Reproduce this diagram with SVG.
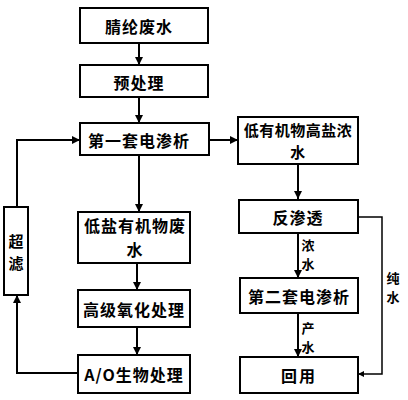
<svg xmlns="http://www.w3.org/2000/svg" width="408" height="400" viewBox="0 0 408 400">
<style>
.b{fill:#fff;stroke:#000;stroke-width:2}
.t{font-family:"Noto Sans CJK SC","Liberation Sans",sans-serif;font-size:16px;font-weight:bold;fill:#000;text-anchor:middle;dominant-baseline:central}
.s{font-family:"Noto Sans CJK SC","Liberation Sans",sans-serif;font-size:13px;font-weight:bold;fill:#000;text-anchor:middle;dominant-baseline:central}
.c{fill:none;stroke:#000;stroke-width:2}
</style>
<defs>
<marker id="a" viewBox="0 0 10 10" refX="10" refY="5" markerWidth="4" markerHeight="4" orient="auto" markerUnits="strokeWidth">
<path d="M0,0 L10,5 L0,10 z" fill="#000"/>
</marker>
</defs>
<rect width="408" height="400" fill="#fff"/>
<g id="connectors">
<path class="c" d="M139,43 V65" marker-end="url(#a)"/>
<path class="c" d="M139,97 V123" marker-end="url(#a)"/>
<path class="c" d="M209,140 H238" marker-end="url(#a)"/>
<path class="c" d="M139,155 V212" marker-end="url(#a)"/>
<path class="c" d="M137,263 V290" marker-end="url(#a)"/>
<path class="c" d="M137,327 V355" marker-end="url(#a)"/>
<path class="c" d="M78,373 H17 V295" marker-end="url(#a)"/>
<path class="c" d="M17,207 V140 H80" marker-end="url(#a)"/>
<path class="c" d="M298,164 V199" marker-end="url(#a)"/>
<path class="c" d="M298,233 V278" marker-end="url(#a)"/>
<path class="c" d="M298,313 V357" marker-end="url(#a)"/>
<path class="c" d="M358,217 H382 V374 H358" marker-end="url(#a)" style="stroke-width:1.5"/>
<text class="s"><tspan x="308" y="244">浓</tspan><tspan x="308" y="263">水</tspan></text>
<text class="s"><tspan x="308" y="327">产</tspan><tspan x="308" y="346">水</tspan></text>
<text class="s"><tspan x="393" y="277">纯</tspan><tspan x="393" y="296">水</tspan></text>
</g>
<g id="n1"><rect class="b" x="80" y="8" width="128" height="35"/><text class="t" x="139" y="26" letter-spacing="1">腈纶废水</text></g>
<g id="n2"><rect class="b" x="80" y="65" width="128" height="32"/><text class="t" x="139" y="82" letter-spacing="1">预处理</text></g>
<g id="n3"><rect class="b" x="80" y="123" width="129" height="32"/><text class="t" x="139" y="140" letter-spacing="1">第一套电渗析</text></g>
<g id="n4"><rect class="b" x="238" y="117" width="120" height="47"/><text class="t" style="font-size:15px" letter-spacing="0.5"><tspan x="298" y="129">低有机物高盐浓</tspan><tspan x="298" y="151">水</tspan></text></g>
<g id="n5"><rect class="b" x="78" y="212" width="112" height="51"/><text class="t" letter-spacing="1"><tspan x="135" y="225">低盐有机物废</tspan><tspan x="135" y="249">水</tspan></text></g>
<g id="n6"><rect class="b" x="78" y="290" width="112" height="37"/><text class="t" x="134" y="309" letter-spacing="1">高级氧化处理</text></g>
<g id="n7"><rect class="b" x="78" y="355" width="112" height="38"/><text class="t" x="134" y="374" letter-spacing="1">A/O生物处理</text></g>
<g id="n8"><rect class="b" x="4" y="207" width="24" height="88"/><text class="t" style="font-size:15px"><tspan x="16" y="240">超</tspan><tspan x="16" y="262">滤</tspan></text></g>
<g id="n9"><rect class="b" x="239" y="200" width="119" height="33"/><text class="t" x="298" y="217" letter-spacing="1">反渗透</text></g>
<g id="n10"><rect class="b" x="240" y="278" width="118" height="35"/><text class="t" x="299" y="296" letter-spacing="1">第二套电渗析</text></g>
<g id="n11"><rect class="b" x="240" y="357" width="118" height="36"/><text class="t" x="299" y="375" letter-spacing="2">回用</text></g>
</svg>
